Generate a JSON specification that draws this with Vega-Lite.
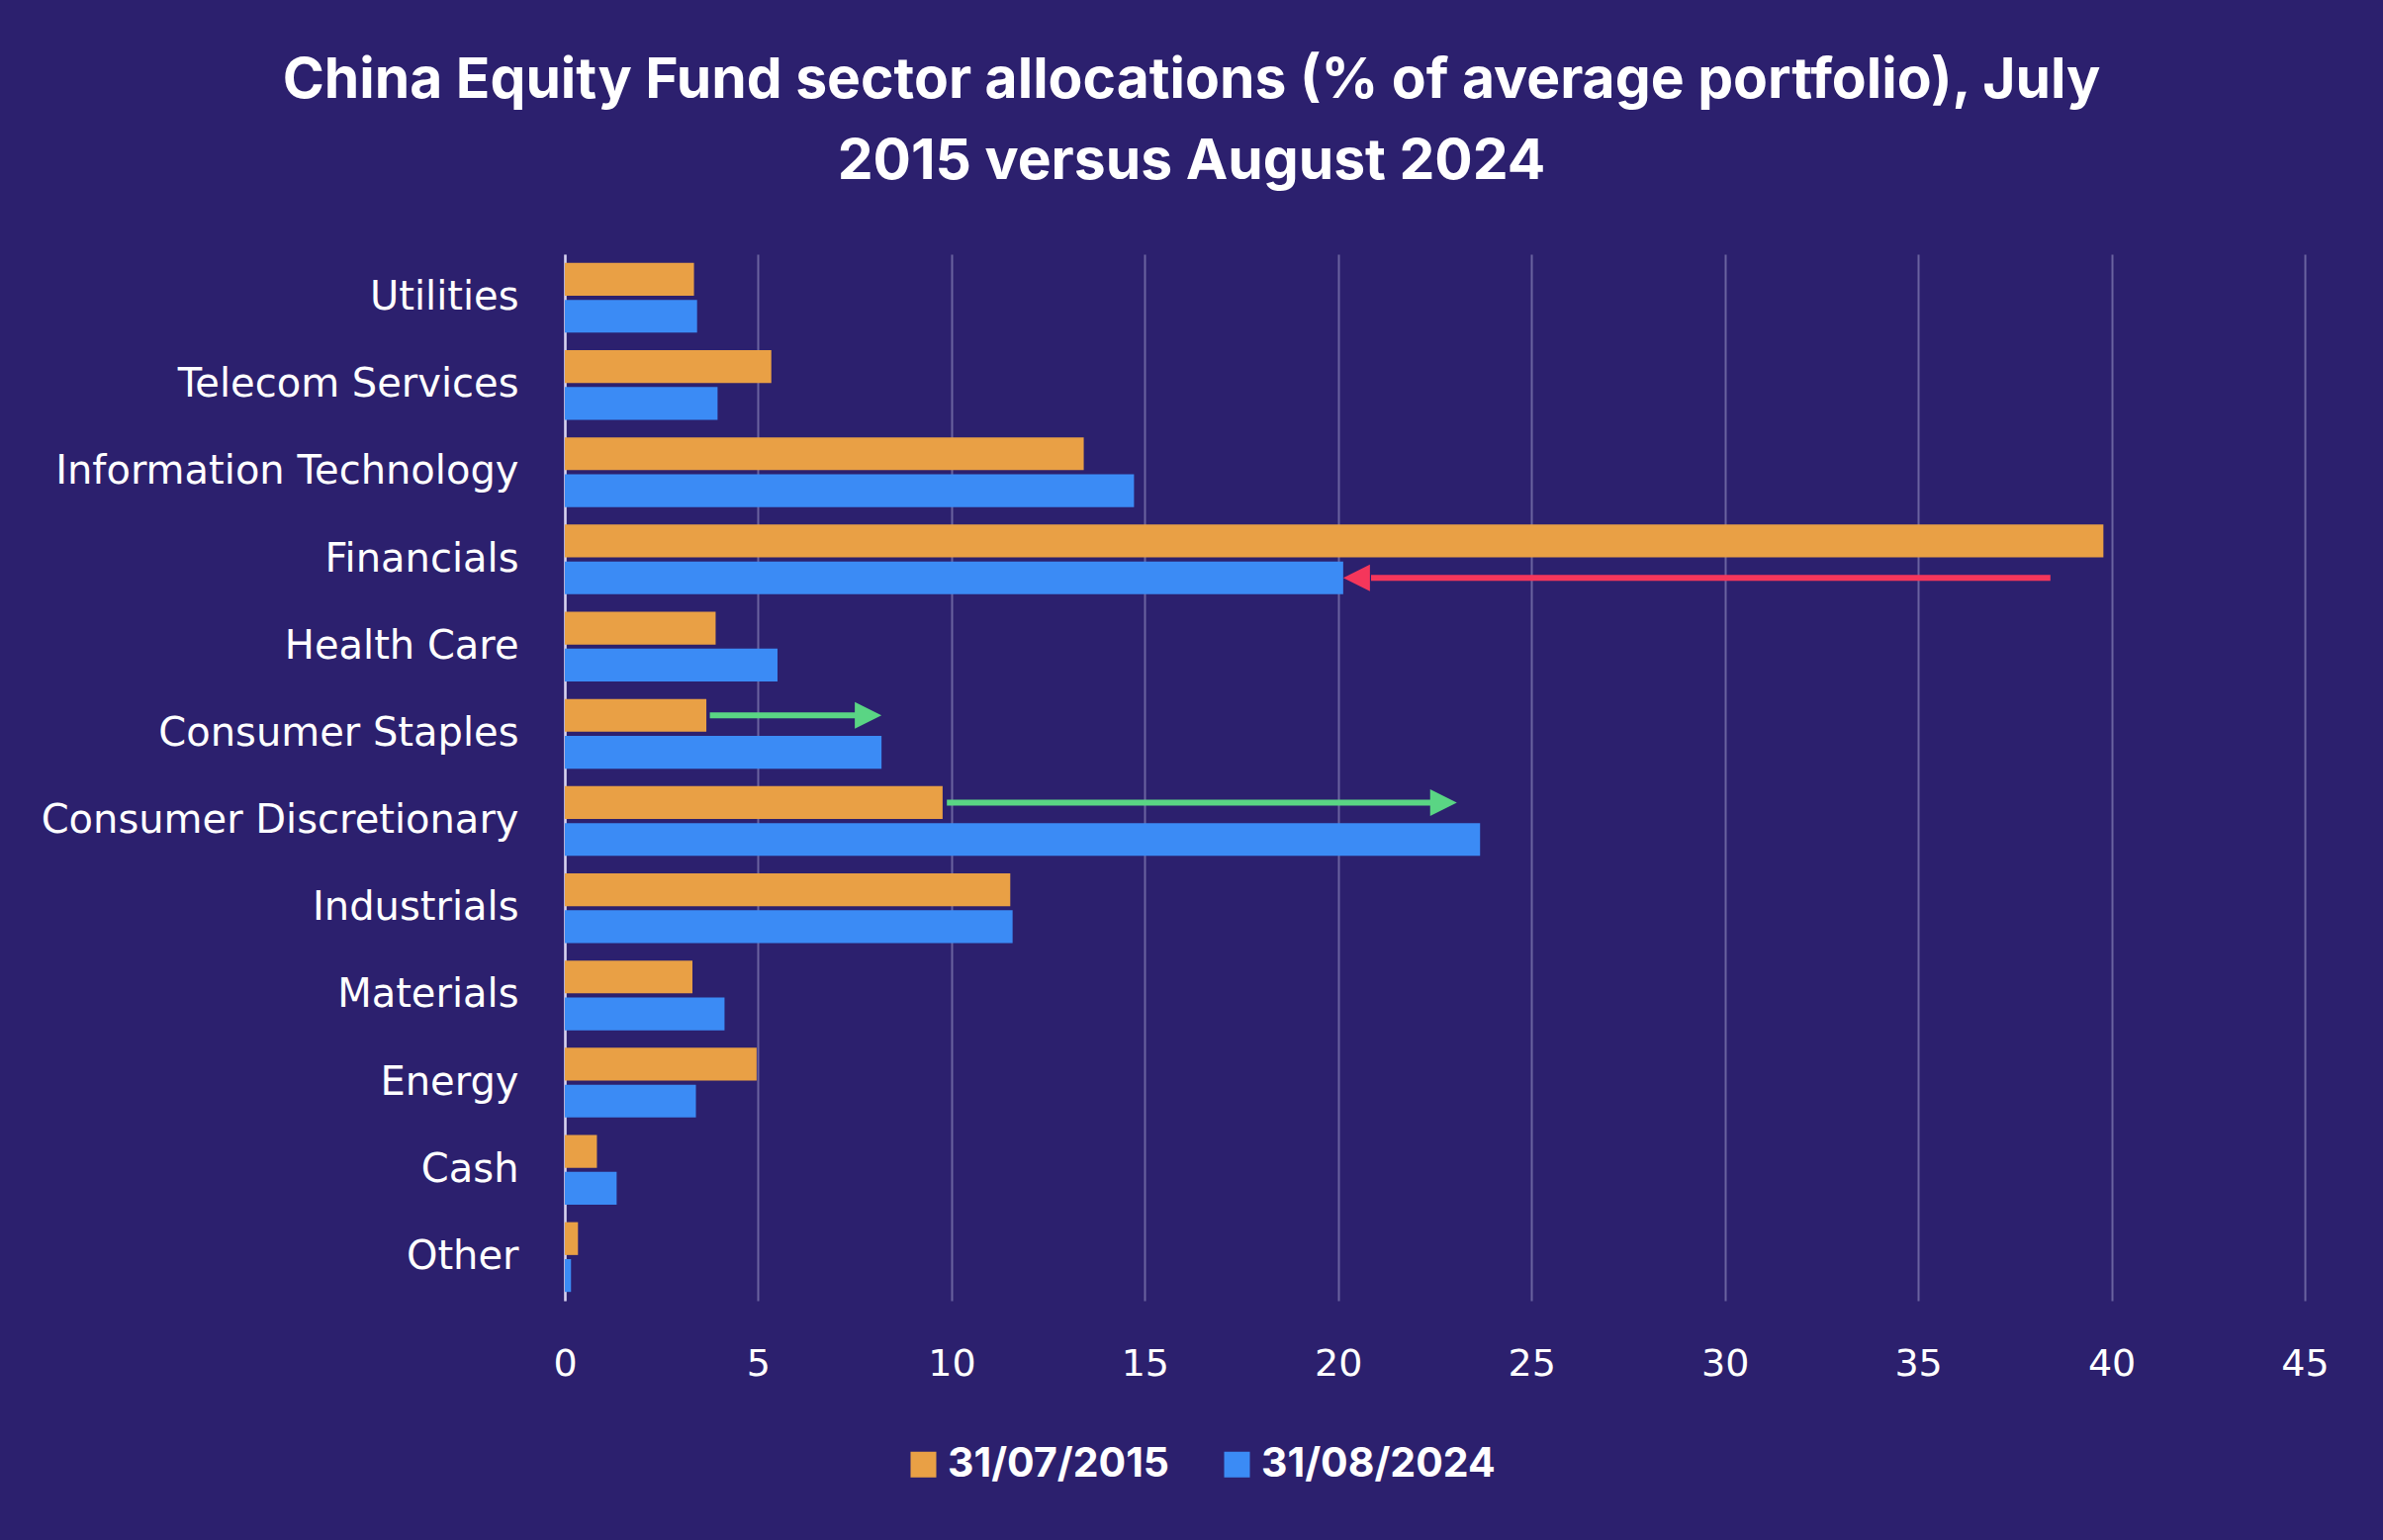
{
  "$schema": "https://vega.github.io/schema/vega-lite/v6.json",
  "width": 1759,
  "height": 1058,
  "autosize": {"type": "none"},
  "padding": {"left": 571, "top": 257, "right": 79, "bottom": 242},
  "background": "#2C206E",
  "title": {
    "text": ["China Equity Fund sector allocations (% of average portfolio), July", "2015 versus August 2024"],
    "anchor": "middle",
    "frame": "group",
    "dx": -246,
    "offset": 64,
    "font": "Inter",
    "fontWeight": "bold",
    "fontSize": 57,
    "lineHeight": 82,
    "color": "#FFFFFF"
  },
  "config": {
    "view": {"stroke": null},
    "axis": {"labelColor": "#FFFFFF", "labelFont": "DejaVu Sans", "title": null}
  },
  "datasets": {
    "bars": [
      {"sector": "Utilities", "series": "31/07/2015", "value": 3.34},
      {"sector": "Utilities", "series": "31/08/2024", "value": 3.42},
      {"sector": "Telecom Services", "series": "31/07/2015", "value": 5.34},
      {"sector": "Telecom Services", "series": "31/08/2024", "value": 3.95},
      {"sector": "Information Technology", "series": "31/07/2015", "value": 13.42},
      {"sector": "Information Technology", "series": "31/08/2024", "value": 14.72},
      {"sector": "Financials", "series": "31/07/2015", "value": 39.79},
      {"sector": "Financials", "series": "31/08/2024", "value": 20.13},
      {"sector": "Health Care", "series": "31/07/2015", "value": 3.9},
      {"sector": "Health Care", "series": "31/08/2024", "value": 5.5},
      {"sector": "Consumer Staples", "series": "31/07/2015", "value": 3.66},
      {"sector": "Consumer Staples", "series": "31/08/2024", "value": 8.19},
      {"sector": "Consumer Discretionary", "series": "31/07/2015", "value": 9.77},
      {"sector": "Consumer Discretionary", "series": "31/08/2024", "value": 23.67},
      {"sector": "Industrials", "series": "31/07/2015", "value": 11.52},
      {"sector": "Industrials", "series": "31/08/2024", "value": 11.58},
      {"sector": "Materials", "series": "31/07/2015", "value": 3.3},
      {"sector": "Materials", "series": "31/08/2024", "value": 4.13},
      {"sector": "Energy", "series": "31/07/2015", "value": 4.96},
      {"sector": "Energy", "series": "31/08/2024", "value": 3.39},
      {"sector": "Cash", "series": "31/07/2015", "value": 0.83},
      {"sector": "Cash", "series": "31/08/2024", "value": 1.34},
      {"sector": "Other", "series": "31/07/2015", "value": 0.34},
      {"sector": "Other", "series": "31/08/2024", "value": 0.16}
    ],
    "arrows": [
      {"sector": "Financials", "series": "31/08/2024", "change": "decrease", "start": 38.42, "shaft_end": 20.85, "tip": 20.13},
      {"sector": "Consumer Staples", "series": "31/07/2015", "change": "increase", "start": 3.75, "shaft_end": 7.6, "tip": 8.19},
      {"sector": "Consumer Discretionary", "series": "31/07/2015", "change": "increase", "start": 9.88, "shaft_end": 22.4, "tip": 23.07}
    ]
  },
  "encoding": {
    "y": {
      "field": "sector",
      "type": "nominal",
      "sort": ["Utilities", "Telecom Services", "Information Technology", "Financials", "Health Care", "Consumer Staples", "Consumer Discretionary", "Industrials", "Materials", "Energy", "Cash", "Other"],
      "scale": {"paddingInner": 0.2, "paddingOuter": 0.1},
      "axis": {
        "domain": true,
        "domainColor": "#D8D4F0",
        "domainWidth": 2.5,
        "ticks": false,
        "labelFontSize": 40,
        "labelLimit": 0,
        "labelPadding": 47,
        "grid": false
      }
    },
    "yOffset": {
      "field": "series",
      "type": "nominal",
      "scale": {"domain": ["31/07/2015", "31/08/2024"], "paddingInner": 0.11, "paddingOuter": 0}
    }
  },
  "layer": [
    {
      "data": {"name": "bars"},
      "mark": {"type": "bar"},
      "encoding": {
        "x": {
          "field": "value",
          "type": "quantitative",
          "scale": {"domain": [0, 45], "nice": false, "zero": true},
          "axis": {
            "values": [0, 5, 10, 15, 20, 25, 30, 35, 40, 45],
            "domain": false,
            "ticks": false,
            "grid": true,
            "gridColor": "#6A639F",
            "gridWidth": 2,
            "labelFontSize": 38,
            "labelFlush": false,
            "labelPadding": 45
          }
        },
        "color": {
          "field": "series",
          "type": "nominal",
          "scale": {"domain": ["31/07/2015", "31/08/2024"], "range": ["#E9A045", "#3B8BF5"]},
          "legend": {
            "orient": "none",
            "legendX": 342,
            "legendY": 1203,
            "direction": "horizontal",
            "title": null,
            "padding": 0,
            "symbolType": "square",
            "symbolSize": 676,
            "symbolStrokeWidth": 0,
            "symbolOpacity": 1,
            "labelFont": "Inter",
            "labelFontWeight": "bold",
            "labelFontSize": 41,
            "labelLimit": 0,
            "labelColor": "#FFFFFF",
            "labelOffset": 4,
            "columnPadding": 47
          }
        }
      }
    },
    {
      "data": {"name": "arrows"},
      "mark": {"type": "rule", "strokeWidth": 6},
      "encoding": {
        "x": {"field": "start", "type": "quantitative"},
        "x2": {"field": "shaft_end"},
        "color": {
          "field": "change",
          "type": "nominal",
          "scale": {"domain": ["decrease", "increase"], "range": ["#F5365B", "#5AD584"]},
          "legend": null
        }
      }
    },
    {
      "data": {"name": "arrows"},
      "mark": {"type": "point", "filled": true, "opacity": 1, "size": 729},
      "encoding": {
        "x": {"field": "tip", "type": "quantitative"},
        "color": {
          "field": "change",
          "type": "nominal",
          "scale": {"domain": ["decrease", "increase"], "range": ["#F5365B", "#5AD584"]},
          "legend": null
        },
        "shape": {
          "field": "change",
          "type": "nominal",
          "scale": {"domain": ["decrease", "increase"], "range": ["M0,0L2,-1L2,1Z", "M0,0L-2,-1L-2,1Z"]},
          "legend": null
        }
      }
    }
  ],
  "resolve": {"scale": {"color": "independent"}}
}
